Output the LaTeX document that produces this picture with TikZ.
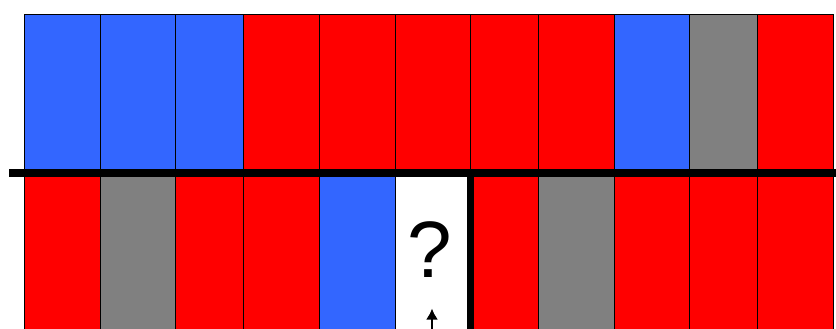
\documentclass[tikz,border=0pt]{standalone}
\usepackage{fontspec}
\setmainfont{Liberation Sans}
\usetikzlibrary{arrows.meta}
\definecolor{cb}{HTML}{3366FF}
\definecolor{cr}{HTML}{FF0000}
\definecolor{cg}{HTML}{808080}
\definecolor{cw}{HTML}{FFFFFF}
\begin{document}
\begin{tikzpicture}[x=1pt,y=-1pt,
  cell/.style={draw=black,line width=0.9pt},
  heavy/.style={line width=7.4pt,draw=black},
  qmark/.style={font=\fontsize{80}{80}\selectfont,inner sep=0pt},
  pointer/.style={-{Latex[length=11pt,width=12pt]},line width=2.2pt}]
\useasboundingbox (0,0) rectangle (836,329);
\clip (0,0) rectangle (836,329);
% top row
\foreach \a/\b/\c in {24/100/cb,100/175.5/cb,175.5/243.5/cb,243.5/319/cr,319/395/cr,395/470/cr,470/538.5/cr,538.5/614/cr,614/689.7/cb,689.7/757.7/cg,757.7/833.3/cr}
  \filldraw[cell,fill=\c] (\a,14) rectangle (\b,173);
% bottom row
\foreach \a/\b/\c in {24/100/cr,100/175.5/cg,175.5/243.5/cr,243.5/319/cr,319/395/cb,395/470/cw,470/538.5/cr,538.5/614/cg,614/689.7/cr,689.7/757.7/cr,757.7/833.3/cr}
  \filldraw[cell,fill=\c] (\a,173) rectangle (\b,345);
% heavy lines
\draw[heavy] (9.3,173) -- (845,173);
\draw[heavy] (470.7,173) -- (470.7,345);
% question mark and pointer
\node[qmark] (q) at (430,250) {?};
\coordinate (pbase) at (432,340);
\coordinate (ptip) at (432,308.5);
\draw[pointer] (pbase) -- (ptip);
\end{tikzpicture}
\end{document}
